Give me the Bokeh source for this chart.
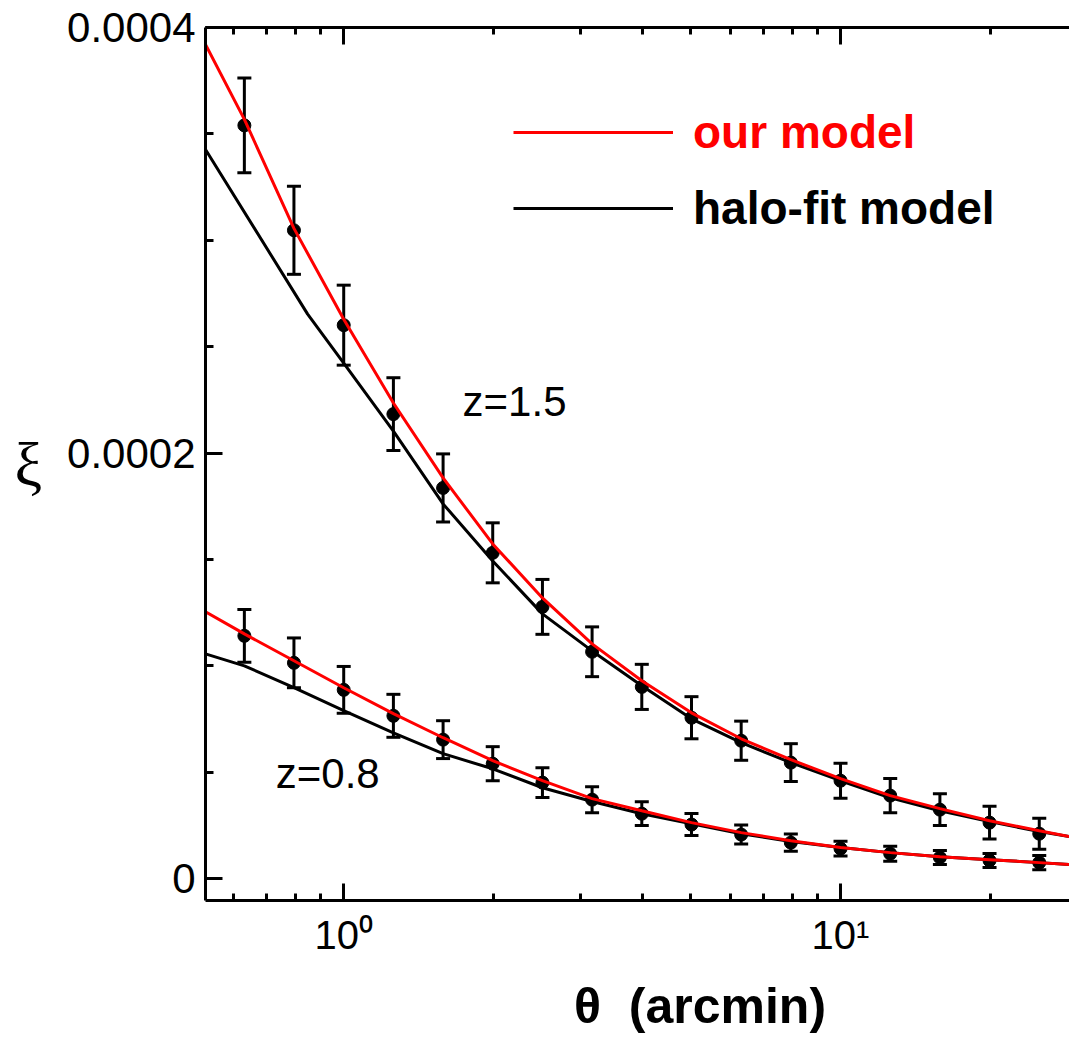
from bokeh.plotting import figure
from bokeh.models import (LogAxis, Whisker, TeeHead, ColumnDataSource, Legend, LegendItem,
                          NumeralTickFormatter, SingleIntervalTicker, FixedTicker)
from bokeh.core.properties import value
from bokeh.embed import file_html
from bokeh.resources import INLINE

# ---------------- data ----------------
theta_pts = [0.631, 0.794, 1.0, 1.259, 1.585, 1.995, 2.512, 3.162, 3.981, 5.012,
             6.310, 7.943, 10.0, 12.59, 15.85, 19.95, 25.12]
xi_z15 = [3.540e-4, 3.047e-4, 2.601e-4, 2.183e-4, 1.836e-4, 1.531e-4, 1.277e-4, 1.066e-4,
          0.901e-4, 0.756e-4, 0.648e-4, 0.545e-4, 0.460e-4, 0.390e-4, 0.324e-4, 0.263e-4, 0.211e-4]
err_z15 = [0.223e-4, 0.207e-4, 0.188e-4, 0.171e-4, 0.160e-4, 0.141e-4, 0.129e-4, 0.117e-4,
           0.106e-4, 0.099e-4, 0.092e-4, 0.089e-4, 0.082e-4, 0.080e-4, 0.075e-4, 0.077e-4, 0.073e-4]
xi_z08 = [1.141e-4, 1.014e-4, 0.887e-4, 0.765e-4, 0.653e-4, 0.540e-4, 0.451e-4, 0.371e-4,
          0.305e-4, 0.254e-4, 0.207e-4, 0.169e-4, 0.141e-4, 0.117e-4, 0.099e-4, 0.085e-4, 0.075e-4]
err_z08 = [0.124e-4, 0.117e-4, 0.110e-4, 0.101e-4, 0.089e-4, 0.080e-4, 0.070e-4, 0.061e-4,
           0.056e-4, 0.052e-4, 0.045e-4, 0.040e-4, 0.035e-4, 0.035e-4, 0.033e-4, 0.033e-4, 0.033e-4]

theta_model = [0.527, 0.631, 0.794, 1.0, 1.259, 1.585, 1.995, 2.512, 3.162, 3.981, 5.012,
               6.310, 7.943, 10.0, 12.59, 15.85, 19.95, 25.12, 28.9]
ours_z15 = [3.920e-4, 3.568e-4, 3.056e-4, 2.629e-4, 2.235e-4, 1.883e-4, 1.573e-4, 1.319e-4,
            1.103e-4, 0.930e-4, 0.779e-4, 0.657e-4, 0.559e-4, 0.4695e-4, 0.390e-4, 0.329e-4,
            0.272e-4, 0.225e-4, 0.197e-4]
ours_z08 = [1.254e-4, 1.150e-4, 1.024e-4, 0.897e-4, 0.775e-4, 0.662e-4, 0.554e-4, 0.460e-4,
            0.376e-4, 0.319e-4, 0.263e-4, 0.216e-4, 0.178e-4, 0.146e-4, 0.122e-4, 0.103e-4,
            0.089e-4, 0.075e-4, 0.066e-4]

theta_halo15 = [0.527, 0.846, 1.0, 1.259, 1.585, 1.995, 2.512, 3.162, 3.981, 5.012,
                6.310, 7.943, 10.0, 12.59, 15.85, 19.95, 25.12, 28.9]
halo_z15 = [3.427e-4, 2.653e-4, 2.423e-4, 2.103e-4, 1.761e-4, 1.493e-4, 1.244e-4, 1.070e-4,
            0.906e-4, 0.751e-4, 0.639e-4, 0.545e-4, 0.460e-4, 0.380e-4, 0.319e-4, 0.268e-4,
            0.221e-4, 0.197e-4]
halo_z08 = [1.056e-4, 1.000e-4, 0.897e-4, 0.789e-4, 0.685e-4, 0.587e-4, 0.516e-4, 0.427e-4,
            0.362e-4, 0.305e-4, 0.258e-4, 0.211e-4, 0.174e-4, 0.146e-4, 0.122e-4, 0.103e-4,
            0.089e-4, 0.075e-4, 0.066e-4]

label_x = [1.735, 0.730]
label_y = [2.244e-4, 0.493e-4]
label_text = ["z=1.5", "z=0.8"]

legend_labels = ["our model", "halo-fit model"]
x_major = [1, 10]
x_minor = [0.6, 0.7, 0.8, 0.9, 2, 3, 4, 5, 6, 7, 8, 9, 20]
x_tick_labels = {1: "10\u2070", 10: "10\u00b9"}

FONT = "Liberation Sans"

# ---------------- figure ----------------
p = figure(width=1069, height=1041, x_axis_type="log",
           x_range=(0.527, 28.9), y_range=(-0.0000103, 0.0004),
           output_backend="svg", toolbar_location=None,
           min_border_left=205, min_border_right=0, min_border_top=27, min_border_bottom=141)
p.xgrid.visible = False
p.ygrid.visible = False
p.outline_line_color = None
p.background_fill_color = "white"
p.border_fill_color = "white"

# error bars and points
for ys, es in [(xi_z15, err_z15), (xi_z08, err_z08)]:
    src = ColumnDataSource(dict(x=theta_pts, y=ys,
                                lo=[a - b for a, b in zip(ys, es)],
                                hi=[a + b for a, b in zip(ys, es)]))
    w = Whisker(source=src, base="x", lower="lo", upper="hi", dimension="height",
                line_color="black", line_width=3,
                upper_head=TeeHead(size=14, line_width=3, line_color="black"),
                lower_head=TeeHead(size=14, line_width=3, line_color="black"))
    p.add_layout(w)
    p.scatter("x", "y", source=src, size=13, color="black")

# model curves
r_h15 = p.line(theta_halo15, halo_z15, line_color="black", line_width=3)
p.line(theta_model, halo_z08, line_color="black", line_width=3)
r_o15 = p.line(theta_model, ours_z15, line_color="#ff0000", line_width=3)
p.line(theta_model, ours_z08, line_color="#ff0000", line_width=3)

p.text(x=label_x, y=label_y, text=label_text, text_font=value(FONT),
       text_font_size="42px", text_baseline="middle", text_align="left", text_color="black")

# axes styling
def style_axis(ax, in_major, in_minor):
    ax.axis_line_width = 3
    ax.axis_line_color = "black"
    ax.major_tick_line_width = 3
    ax.minor_tick_line_width = 3
    ax.major_tick_in = in_major
    ax.major_tick_out = 0
    ax.minor_tick_in = in_minor
    ax.minor_tick_out = 0
    ax.major_label_text_font = FONT
    ax.major_label_text_color = "black"
    ax.axis_label_text_color = "black"

xa = p.xaxis[0]
style_axis(xa, 17, 7)
xa.ticker = FixedTicker(ticks=x_major, minor_ticks=x_minor)
xa.major_label_overrides = x_tick_labels
xa.major_label_text_font_size = "40px"
xa.major_label_standoff = 12
xa.axis_label = "\u00a0" * 9 + "\u03b8\u00a0\u00a0(arcmin)"
xa.axis_label_text_font = FONT
xa.axis_label_text_font_style = "bold"
xa.axis_label_text_font_size = "50px"
xa.axis_label_standoff = 18

ya = p.yaxis[0]
style_axis(ya, 17, 8)
ya.ticker = SingleIntervalTicker(interval=0.0002, num_minor_ticks=4)
ya.formatter = NumeralTickFormatter(format="0.[0000]")
ya.major_label_text_font_size = "42px"
ya.major_label_standoff = 10
ya.axis_label = "\u03be"
ya.axis_label_text_font = "Liberation Serif"
ya.axis_label_text_font_style = "normal"
ya.axis_label_text_font_size = "62px"
ya.axis_label_standoff = 22
ya.axis_label_orientation = 0

top = LogAxis(ticker=FixedTicker(ticks=x_major, minor_ticks=x_minor))
style_axis(top, 17, 7)
top.major_label_overrides = {1: "", 10: ""}
top.major_label_standoff = 0
p.add_layout(top, "above")

# legends (two, to colour each label)
leg1 = Legend(items=[LegendItem(label=legend_labels[0], renderers=[r_o15])],
              location=(308, 738))
leg2 = Legend(items=[LegendItem(label=legend_labels[1], renderers=[r_h15])],
              location=(308, 662))
for lg, col in [(leg1, "#ff0000"), (leg2, "black")]:
    lg.label_text_font = FONT
    lg.label_text_font_style = "bold"
    lg.label_text_font_size = "46px"
    lg.label_text_color = col
    lg.glyph_width = 160
    lg.glyph_height = 60
    lg.label_height = 60
    lg.label_standoff = 20
    lg.padding = 0
    lg.margin = 0
    lg.spacing = 0
    lg.border_line_color = None
    lg.background_fill_alpha = 0
    p.add_layout(lg)

open("out.html", "w").write(file_html(p, INLINE))
